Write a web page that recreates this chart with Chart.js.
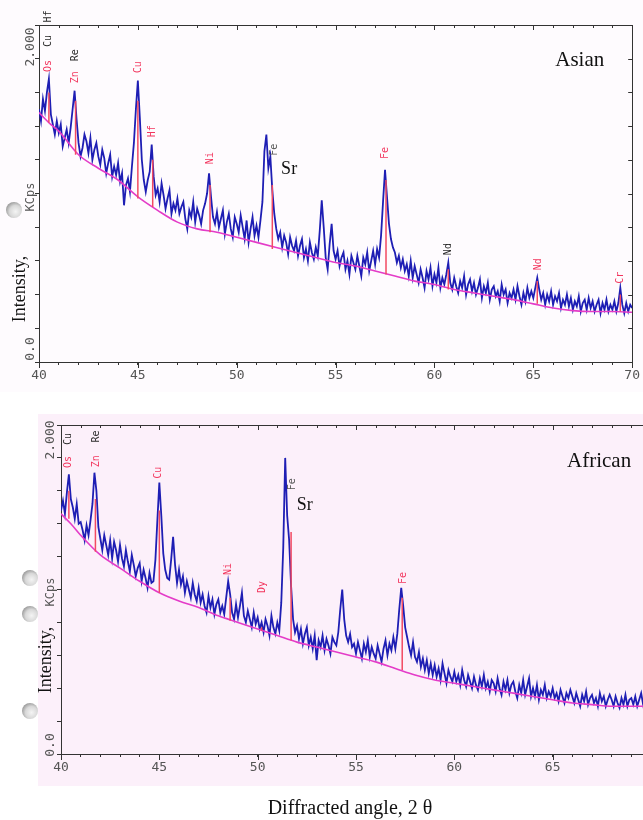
<!DOCTYPE html>
<html><head><meta charset="utf-8">
<script src="https://cdn.jsdelivr.net/npm/chart.js@4.4.0/dist/chart.umd.min.js"></script>
<style>
html,body{margin:0;padding:0;background:#fff;width:643px;height:820px;overflow:hidden;position:relative}
#tint1{position:absolute;left:0;top:0;width:643px;height:392px;background:#fefbfe}
#tint2{position:absolute;left:38px;top:414px;width:605px;height:372px;background:#fcf0fa}
.hole{position:absolute;width:16px;height:16px;border-radius:50%;background:radial-gradient(circle at 60% 60%,#f4f4f4 0,#d8d8d8 45%,#9a9a9a 75%,#e8e8e8 100%)}
#w1{position:absolute;left:0;top:0}
#w2{position:absolute;left:0;top:400px}
</style></head><body>
<div id="tint1"></div><div id="tint2"></div>
<div class="hole" style="left:6px;top:202px"></div>
<div class="hole" style="left:22px;top:570px"></div>
<div class="hole" style="left:22px;top:606px"></div>
<div class="hole" style="left:22px;top:703px"></div>
<div id="w1"><canvas id="c1" width="643" height="390"></canvas></div>
<div id="w2"><canvas id="c2" width="665" height="420"></canvas></div>
<script>
// ---------- DATA ----------
const angles = Array.from({length: 301}, (_, i) => Math.round((40 + i * 0.1) * 10) / 10);

const asianCounts = [
1.50,1.43,1.56,1.49,1.60,1.68,1.47,1.41,1.35,1.43,
1.36,1.41,1.28,1.33,1.38,1.30,1.39,1.50,1.61,1.44,
1.30,1.22,1.27,1.35,1.31,1.24,1.33,1.20,1.26,1.30,
1.22,1.17,1.26,1.21,1.12,1.18,1.23,1.10,1.16,1.11,
1.18,1.07,1.12,0.93,1.05,1.09,1.01,1.16,1.30,1.50,
1.67,1.45,1.20,1.08,1.01,1.08,1.13,1.29,1.10,0.99,
1.03,0.95,1.06,0.99,0.91,0.97,1.02,0.88,0.94,0.90,
0.97,0.88,0.92,0.95,0.85,0.79,0.90,0.86,0.95,0.83,
0.91,0.87,0.82,0.90,0.94,1.00,1.12,0.98,0.86,0.82,
0.89,0.80,0.85,0.90,0.76,0.83,0.88,0.79,0.74,0.86,
0.82,0.77,0.87,0.80,0.73,0.84,0.71,0.79,0.86,0.75,
0.81,0.74,0.84,0.95,1.25,1.35,1.15,1.22,1.02,0.88,
0.79,0.73,0.77,0.68,0.75,0.71,0.64,0.74,0.69,0.66,
0.72,0.63,0.69,0.73,0.62,0.67,0.60,0.71,0.65,0.61,
0.68,0.63,0.78,0.96,0.80,0.62,0.55,0.70,0.82,0.66,
0.61,0.66,0.57,0.62,0.65,0.55,0.60,0.52,0.63,0.59,
0.55,0.63,0.57,0.51,0.62,0.58,0.65,0.54,0.60,0.66,
0.58,0.67,0.62,0.75,0.95,1.14,0.98,0.82,0.73,0.68,
0.65,0.59,0.63,0.56,0.61,0.54,0.58,0.51,0.60,0.50,
0.57,0.52,0.47,0.55,0.50,0.44,0.54,0.49,0.56,0.45,
0.52,0.47,0.56,0.44,0.50,0.46,0.52,0.59,0.47,0.43,
0.50,0.45,0.41,0.48,0.44,0.51,0.40,0.46,0.49,0.42,
0.47,0.40,0.44,0.49,0.38,0.45,0.41,0.47,0.37,0.43,
0.45,0.39,0.42,0.36,0.46,0.40,0.43,0.35,0.41,0.38,
0.43,0.37,0.45,0.39,0.34,0.41,0.36,0.44,0.38,0.42,
0.38,0.44,0.50,0.43,0.37,0.41,0.34,0.40,0.36,0.42,
0.34,0.39,0.36,0.41,0.32,0.37,0.34,0.40,0.33,0.38,
0.31,0.36,0.33,0.39,0.30,0.35,0.37,0.31,0.38,0.32,
0.36,0.30,0.34,0.37,0.29,0.35,0.31,0.37,0.30,0.34,
0.31,0.36,0.30,0.35,0.44,0.34,0.29,0.35,0.30,0.34,
0.32];

const africanCounts = [
1.48,1.54,1.46,1.59,1.70,1.55,1.50,1.43,1.52,1.40,
1.41,1.36,1.30,1.39,1.33,1.42,1.52,1.71,1.60,1.38,
1.31,1.24,1.33,1.27,1.21,1.30,1.19,1.29,1.24,1.17,
1.27,1.19,1.14,1.24,1.17,1.11,1.21,1.15,1.08,1.13,
1.16,1.05,1.12,1.07,1.01,1.10,1.04,1.05,1.18,1.42,
1.65,1.45,1.22,1.12,1.07,1.06,1.18,1.32,1.15,1.04,
1.12,1.03,1.08,0.98,1.05,1.00,0.95,1.04,0.97,0.93,
1.01,0.92,0.97,0.90,0.86,0.96,0.89,0.94,0.85,0.91,
0.94,0.86,0.90,0.85,0.95,1.05,0.97,0.86,0.82,0.91,
0.83,0.90,0.98,0.84,0.80,0.87,0.82,0.77,0.86,0.79,
0.83,0.76,0.80,0.74,0.82,0.78,0.72,0.84,0.77,0.73,
0.80,0.75,0.92,1.25,1.80,1.45,1.30,1.02,0.82,0.74,
0.78,0.70,0.76,0.67,0.73,0.77,0.66,0.71,0.64,0.72,
0.57,0.69,0.65,0.72,0.63,0.70,0.66,0.61,0.71,0.68,
0.66,0.74,0.88,1.00,0.82,0.72,0.68,0.73,0.65,0.67,
0.61,0.68,0.63,0.58,0.67,0.62,0.69,0.59,0.65,0.61,
0.58,0.66,0.61,0.56,0.64,0.69,0.60,0.67,0.63,0.71,
0.64,0.73,0.88,1.01,0.90,0.77,0.71,0.65,0.60,0.68,
0.59,0.56,0.62,0.53,0.58,0.51,0.57,0.49,0.55,0.48,
0.54,0.47,0.52,0.45,0.55,0.49,0.43,0.51,0.47,0.44,
0.50,0.44,0.48,0.42,0.51,0.45,0.41,0.48,0.44,0.40,
0.47,0.42,0.39,0.46,0.41,0.48,0.40,0.44,0.38,0.45,
0.43,0.38,0.46,0.40,0.36,0.44,0.39,0.45,0.37,0.42,
0.44,0.38,0.34,0.42,0.37,0.45,0.36,0.41,0.46,0.35,
0.40,0.35,0.42,0.33,0.39,0.36,0.42,0.34,0.38,0.35,
0.40,0.34,0.37,0.32,0.39,0.35,0.31,0.37,0.34,0.39,
0.35,0.31,0.37,0.33,0.29,0.36,0.32,0.38,0.30,0.34,
0.36,0.31,0.34,0.29,0.37,0.32,0.35,0.29,0.33,0.36,
0.33,0.29,0.35,0.31,0.28,0.34,0.30,0.36,0.29,0.33,
0.34,0.30,0.35,0.29,0.33,0.37,0.30,0.34,0.29,0.35,
0.32];

const bgAngles = [40,40.5,41,42,43,44,45,46,47,48,49,50,51,52,53,54,55,56,57,58,59,60,61,62,63,64,65,66,67,68,69,70];
const asianBackground = [1.48,1.42,1.37,1.23,1.15,1.08,0.98,0.90,0.83,0.79,0.77,0.74,0.71,0.68,0.65,0.62,0.59,0.57,0.54,0.51,0.48,0.46,0.43,0.41,0.39,0.37,0.345,0.32,0.305,0.30,0.30,0.295];
const africanBackground = [1.46,1.40,1.33,1.21,1.13,1.05,0.98,0.93,0.89,0.84,0.80,0.76,0.72,0.68,0.65,0.62,0.59,0.56,0.52,0.48,0.45,0.43,0.41,0.39,0.37,0.35,0.33,0.31,0.30,0.29,0.29,0.29];

const asianPeakAngles = [40.5,41.85,45.0,45.75,48.65,51.8,57.55,60.7,65.2,69.4];
const asianPeakBase   = [1.42,1.23,0.97,0.92,0.77,0.67,0.52,0.43,0.345,0.30];
const asianPeakTop    = [1.60,1.55,1.55,1.20,1.05,1.05,1.08,0.55,0.48,0.40];
const africanPeakAngles = [40.4,41.75,45.0,48.6,50.2,51.7,57.35];
const africanPeakBase   = [1.43,1.23,0.98,0.81,0.75,0.69,0.51];
const africanPeakTop    = [1.60,1.55,1.48,0.95,0.77,1.35,0.95];

const asianLabelText  = ['Hf','Cu','Os','Re','Zn','Cu','Hf','Ni','Fe','Fe','Nd','Nd','Cr'];
const asianLabelAngle = [40.5,40.5,40.5,41.85,41.85,45.05,45.75,48.65,51.9,57.5,60.7,65.25,69.4];
const asianLabelLevel = [2.05,1.905,1.757,1.82,1.69,1.75,1.37,1.21,1.26,1.24,0.67,0.58,0.50];
const asianLabelInk   = ['k','k','r','k','r','r','r','r','g','r','k','r','r'];
const africanLabelText  = ['Cu','Os','Re','Zn','Cu','Ni','Dy','Fe','Fe'];
const africanLabelAngle = [40.36,40.36,41.78,41.78,44.97,48.53,50.25,51.78,57.41];
const africanLabelLevel = [1.915,1.775,1.93,1.78,1.71,1.125,1.015,1.64,1.07];
const africanLabelInk   = ['k','r','k','r','r','r','r','g','r'];

const xTickLabels = [40,45,50,55,60,65,70];
const yTickLabels = ['0.0','2.000'];
const yUnit = 'KCps';
const yTitle = 'Intensity,';
const xTitle = 'Diffracted angle, 2 θ';

// ---------- STYLE ----------
const INK = {k:'#2a2a2a', r:'#f2365e', g:'#555'};
const MONO = '"DejaVu Sans Mono", monospace';
const SERIF = '"Liberation Serif", "Times New Roman", serif';

function buildData(counts, bg, pkA, pkB, pkT){
  const peaks = [];
  pkA.forEach((a,i)=>{ peaks.push({x:a,y:pkB[i]}); peaks.push({x:a,y:pkT[i]}); peaks.push({x:a,y:null}); });
  return {datasets:[
    {data:peaks, borderColor:'#f24a62', borderWidth:1.5, pointRadius:0, spanGaps:false, tension:0},
    {data:bgAngles.map((a,i)=>({x:a,y:bg[i]})), borderColor:'#e43cc8', borderWidth:1.6, pointRadius:0, tension:0.4, cubicInterpolationMode:'monotone'},
    {data:angles.map((a,i)=>({x:a,y:counts[i]})), borderColor:'#1e1eb4', borderWidth:1.8, pointRadius:0, tension:0}
  ]};
}

function rotText(ctx, txt, x, y, font, color){
  ctx.save(); ctx.translate(x,y); ctx.rotate(-Math.PI/2);
  ctx.font = font; ctx.fillStyle = color; ctx.textAlign='center'; ctx.textBaseline='middle';
  ctx.fillText(txt,0,0); ctx.restore();
}

function decor(o){
  return {id:'decor', afterDraw(chart){
    const ctx = chart.ctx, xs = chart.scales.x, ys = chart.scales.y, ca = chart.chartArea;
    ctx.save();
    ctx.strokeStyle = '#333'; ctx.lineWidth = 1;
    for (let v = 40; v <= 70; v++){
      const px = Math.round(xs.getPixelForValue(v)) + 0.5;
      const major = v % 5 === 0;
      ctx.beginPath(); ctx.moveTo(px, ca.top); ctx.lineTo(px, ca.top + (major ? 5 : 3)); ctx.stroke();
      if (major){ ctx.beginPath(); ctx.moveTo(px, ca.bottom); ctx.lineTo(px, ca.bottom + 6); ctx.stroke(); }
    }
    for (let k = 0; k <= 10; k++){
      const py = Math.round(ys.getPixelForValue(k*0.2)) + 0.5;
      ctx.beginPath(); ctx.moveTo(ca.right, py); ctx.lineTo(ca.right - 4, py); ctx.stroke();
    }
    o.text.forEach((t,i)=>{
      rotText(ctx, t, xs.getPixelForValue(o.angle[i]), ys.getPixelForValue(o.level[i]), '10px '+MONO, INK[o.ink[i]]);
    });
    ctx.font = '18px '+SERIF; ctx.fillStyle = '#111'; ctx.textAlign='center'; ctx.textBaseline='middle';
    ctx.fillText('Sr', xs.getPixelForValue(o.sr[0]), ys.getPixelForValue(o.sr[1]));
    ctx.font = '21px '+SERIF;
    ctx.fillText(o.name, xs.getPixelForValue(o.nameAt[0]), ys.getPixelForValue(o.nameAt[1]));
    rotText(ctx, yTickLabels[1], o.yl.x, o.yl.top, '13px '+MONO, '#555');
    rotText(ctx, yTickLabels[0], o.yl.x, o.yl.bottom, '13px '+MONO, '#555');
    rotText(ctx, yUnit, o.yl.x, o.yl.unit, '12px '+MONO, '#555');
    rotText(ctx, yTitle, o.yl.tx, o.yl.ty, '18px '+SERIF, '#111');
    if (o.xTitle){
      ctx.font = '20px '+SERIF; ctx.fillStyle = '#111'; ctx.textAlign='center'; ctx.textBaseline='middle';
      ctx.fillText(xTitle, o.xTitle[0], o.xTitle[1]);
    }
    ctx.restore();
  }};
}

function makeChart(id, data, yWidth, xHeight, padRight, dec){
  return new Chart(document.getElementById(id), {
    type:'line', data,
    options:{
      responsive:false, animation:false, devicePixelRatio:1,
      layout:{padding:{top:25,right:padRight,left:0,bottom:0}},
      plugins:{legend:{display:false}, tooltip:{enabled:false}},
      scales:{
        x:{type:'linear', position:'bottom', min:40, max:70,
          afterFit:s=>{s.height = xHeight;},
          afterBuildTicks:s=>{s.ticks = Array.from({length:31},(_,i)=>({value:40+i}));},
          ticks:{autoSkip:false, maxRotation:0, padding:3, color:'#555', font:{family:MONO, size:13},
            callback:v=> xTickLabels.includes(v) ? String(v) : ''},
          grid:{drawOnChartArea:false, tickLength:3, color:'#333'}, border:{color:'#333'}},
        xTop:{type:'linear', position:'top', min:40, max:70, afterFit:s=>{s.height=0;},
          ticks:{display:false}, grid:{drawOnChartArea:false, drawTicks:false}, border:{color:'#333'}},
        y:{type:'linear', position:'left', min:0, max:2, afterFit:s=>{s.width = yWidth;},
          afterBuildTicks:s=>{s.ticks = Array.from({length:11},(_,i)=>({value:i*0.2}));},
          ticks:{display:false}, grid:{drawOnChartArea:false, tickLength:4, color:'#333'}, border:{color:'#333'}},
        yRight:{type:'linear', position:'right', min:0, max:2, afterFit:s=>{s.width=0;},
          ticks:{display:false}, grid:{drawOnChartArea:false, drawTicks:false}, border:{color:'#333'}}
      }
    },
    plugins:[dec]
  });
}

makeChart('c1', buildData(asianCounts, asianBackground, asianPeakAngles, asianPeakBase, asianPeakTop), 39, 28, 3,
  decor({text:asianLabelText, angle:asianLabelAngle, level:asianLabelLevel, ink:asianLabelInk,
    sr:[52.65,1.145], name:'Asian', nameAt:[67.35,1.79],
    yl:{x:31, top:47, bottom:349, unit:197, tx:20, ty:289}}));

makeChart('c2', buildData(africanCounts, africanBackground, africanPeakAngles, africanPeakBase, africanPeakTop), 61, 66, 14,
  decor({text:africanLabelText, angle:africanLabelAngle, level:africanLabelLevel, ink:africanLabelInk,
    sr:[52.39,1.51], name:'African', nameAt:[67.36,1.78],
    yl:{x:51, top:40, bottom:345, unit:192, tx:46, ty:260}, xTitle:[350,409]}));
</script>
</body></html>
